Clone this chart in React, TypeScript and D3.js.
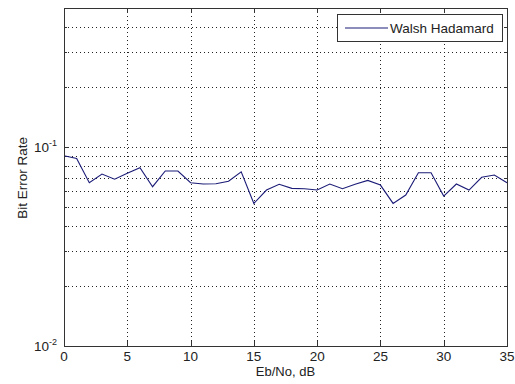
import React, { useRef, useEffect } from "react";
import * as d3 from "d3";

// Eb/No values (dB)
const ebNo = [
  0, 1, 2, 3, 4, 5, 6, 7, 8, 9, 10, 11, 12, 13, 14, 15, 16, 17,
  18, 19, 20, 21, 22, 23, 24, 25, 26, 27, 28, 29, 30, 31, 32, 33, 34, 35,
];

// bit error rate for Walsh Hadamard
const berWalsh = [
  0.0904, 0.0877, 0.0662, 0.0732, 0.0689, 0.0738, 0.0787, 0.0632, 0.0758,
  0.0758, 0.0662, 0.0652, 0.0654, 0.0673, 0.0751, 0.0521, 0.0608, 0.065,
  0.062, 0.0617, 0.0608, 0.0652, 0.0617, 0.065, 0.068, 0.0644, 0.0521,
  0.0574, 0.0743, 0.0743, 0.0567, 0.0652, 0.0608, 0.0705, 0.0723, 0.0662,
];

const xTicks = [0, 5, 10, 15, 20, 25, 30, 35];
const yMajor = [0.01, 0.1];
const yMinor = [0.02, 0.03, 0.04, 0.05, 0.06, 0.07, 0.08, 0.09, 0.2, 0.3, 0.4];

const seriesName = "Walsh Hadamard";
const xLabel = "Eb/No, dB";
const yLabel = "Bit Error Rate";

export default function App() {
  const svgRef = useRef<SVGSVGElement>(null);

  useEffect(() => {
    if (!svgRef.current) return;
    const width = 515;
    const height = 384;
    const margin = { top: 8, right: 8, bottom: 38, left: 64 };
    const w = width - margin.left - margin.right;
    const h = height - margin.top - margin.bottom;

    const root = d3.select(svgRef.current);
    root.selectAll("*").remove();
    root.attr("width", width).attr("height", height);

    root.append("rect").attr("width", width).attr("height", height).attr("fill", "#fff");

    const svg = root.append("g").attr("transform", `translate(${margin.left},${margin.top})`);

    const x = d3.scaleLinear().domain([0, 35]).range([0, w]);
    const y = d3.scaleLog().domain([0.01, 0.5]).range([h, 0]);

    const font = "'Liberation Sans', Arial, sans-serif";
    const gridCol = "#222";

    // grid
    svg.append("g")
      .selectAll("line")
      .data(xTicks.slice(1, -1))
      .enter()
      .append("line")
      .attr("x1", d => Math.round(x(d)) + 0.5)
      .attr("x2", d => Math.round(x(d)) + 0.5)
      .attr("y1", 0)
      .attr("y2", h)
      .attr("stroke", gridCol)
      .attr("stroke-width", 1)
      .attr("stroke-dasharray", "1,3");

    svg.append("g")
      .selectAll("line")
      .data([...yMajor.slice(1), ...yMinor])
      .enter()
      .append("line")
      .attr("x1", 0)
      .attr("x2", w)
      .attr("y1", d => Math.round(y(d)) + 0.5)
      .attr("y2", d => Math.round(y(d)) + 0.5)
      .attr("stroke", gridCol)
      .attr("stroke-width", 1)
      .attr("stroke-dasharray", "1,3");

    // ticks (inside, both sides)
    const tickG = svg.append("g").attr("stroke", "#333").attr("stroke-width", 1);
    xTicks.forEach(t => {
      const px = Math.round(x(t)) + 0.5;
      tickG.append("line").attr("x1", px).attr("x2", px).attr("y1", h).attr("y2", h - 5);
      tickG.append("line").attr("x1", px).attr("x2", px).attr("y1", 0).attr("y2", 5);
    });
    yMajor.forEach(t => {
      const py = Math.round(y(t)) + 0.5;
      tickG.append("line").attr("x1", 0).attr("x2", 5).attr("y1", py).attr("y2", py);
      tickG.append("line").attr("x1", w).attr("x2", w - 5).attr("y1", py).attr("y2", py);
    });
    yMinor.forEach(t => {
      const py = Math.round(y(t)) + 0.5;
      tickG.append("line").attr("x1", 0).attr("x2", 3).attr("y1", py).attr("y2", py);
      tickG.append("line").attr("x1", w).attr("x2", w - 3).attr("y1", py).attr("y2", py);
    });

    // data line
    const line = d3.line<number>()
      .x((d, i) => x(ebNo[i]))
      .y(d => y(d));
    svg.append("path")
      .datum(berWalsh)
      .attr("d", line)
      .attr("fill", "none")
      .attr("stroke", "#1c1c78")
      .attr("stroke-width", 1.1);

    // frame
    svg.append("rect")
      .attr("x", 0.5)
      .attr("y", 0.5)
      .attr("width", w)
      .attr("height", h)
      .attr("fill", "none")
      .attr("stroke", "#333")
      .attr("stroke-width", 1);

    // x tick labels
    svg.append("g")
      .selectAll("text")
      .data(xTicks)
      .enter()
      .append("text")
      .attr("x", d => x(d))
      .attr("y", h + 14.5)
      .attr("text-anchor", "middle")
      .attr("font-family", font)
      .attr("font-size", "13.5px")
      .attr("fill", "#222")
      .text(d => d);

    // y tick labels (10^n)
    yMajor.forEach(t => {
      const txt = svg.append("text")
        .attr("x", -7)
        .attr("y", y(t) + 5)
        .attr("text-anchor", "end")
        .attr("font-family", font)
        .attr("font-size", "13.5px")
        .attr("fill", "#222");
      txt.append("tspan").text("10");
      txt.append("tspan")
        .attr("dy", -6)
        .attr("font-size", "9px")
        .text(String(Math.round(Math.log10(t))));
    });

    // axis labels
    svg.append("text")
      .attr("x", w / 2)
      .attr("y", h + 30)
      .attr("text-anchor", "middle")
      .attr("font-family", font)
      .attr("font-size", "13px")
      .attr("fill", "#222")
      .text(xLabel);

    svg.append("text")
      .attr("transform", `translate(${-37},${y(0.07)}) rotate(-90)`)
      .attr("text-anchor", "middle")
      .attr("font-family", font)
      .attr("font-size", "13.5px")
      .attr("fill", "#222")
      .text(yLabel);

    // legend
    const lg = svg.append("g").attr("transform", `translate(${w - 170},${6})`);
    lg.append("rect")
      .attr("x", 0.5)
      .attr("y", 0.5)
      .attr("width", 165)
      .attr("height", 27)
      .attr("fill", "#fff")
      .attr("stroke", "#333");
    lg.append("line")
      .attr("x1", 8)
      .attr("x2", 51)
      .attr("y1", 14)
      .attr("y2", 14)
      .attr("stroke", "#1c1c78")
      .attr("stroke-width", 1.1);
    lg.append("text")
      .attr("x", 53)
      .attr("y", 19)
      .attr("font-family", font)
      .attr("font-size", "13.5px")
      .attr("fill", "#222")
      .text(seriesName);
  }, []);

  return (
    <div style={{ position: "absolute", left: 0, top: 0 }}>
      <svg ref={svgRef} style={{ display: "block" }}></svg>
    </div>
  );
}
